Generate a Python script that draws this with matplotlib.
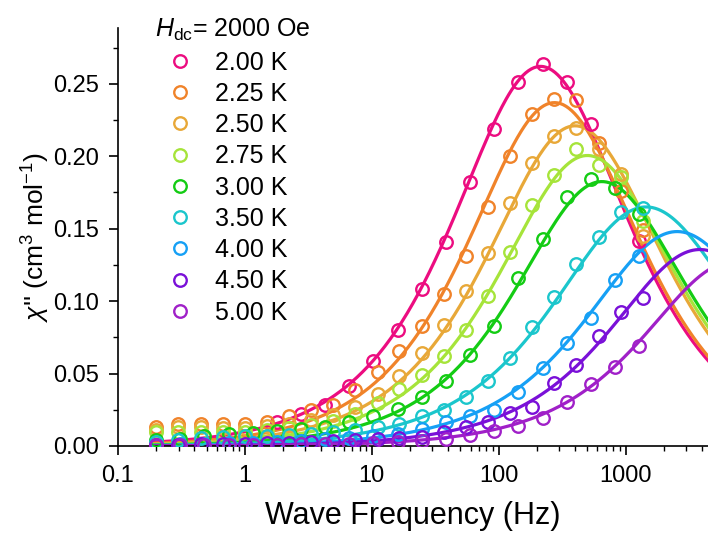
import numpy as np
import matplotlib
matplotlib.use("Agg")
import matplotlib.pyplot as plt
from matplotlib.ticker import MultipleLocator, LogLocator, FixedLocator, FixedFormatter, NullFormatter

plt.rcParams['font.family'] = ['Liberation Sans', 'DejaVu Sans']
plt.rcParams['mathtext.fontset'] = 'custom'
plt.rcParams['mathtext.rm'] = 'Liberation Sans'
plt.rcParams['mathtext.it'] = 'Liberation Sans:italic'

# ---------------- data ----------------
temps = ["2.00 K", "2.25 K", "2.50 K", "2.75 K", "3.00 K", "3.50 K", "4.00 K", "4.50 K", "5.00 K"]
colors = ["#EC0C80", "#F0832A", "#E8A838", "#A6E43A", "#14CC14", "#1BC6CC", "#16A0F5", "#7A10D8", "#A020C8"]

freq_A = [0.2, 0.31, 0.48, 0.745, 1.155, 1.79, 2.78, 4.3, 6.67, 10.3, 16.0, 24.8, 38.5,
          59.6, 92.4, 143, 222, 344, 534, 828, 1283]
freq_B = [0.2, 0.299, 0.447, 0.667, 0.997, 1.49, 2.23, 3.32, 4.96, 7.42, 11.1, 16.5, 24.7,
          36.9, 55.1, 82.3, 123, 184, 275, 410, 613, 916, 1369]
freq_200 = [1.79, 2.78, 4.3, 6.67, 10.3, 16.0, 24.8, 38.5, 59.6, 92.4, 143, 222, 344, 534, 1283]

chi_200 = [0.0164, 0.0221, 0.028, 0.0416, 0.0589, 0.0803, 0.1086, 0.1411, 0.1825, 0.2189,
           0.2512, 0.2638, 0.2512, 0.2224, 0.1418]
chi_225 = [0.0129, 0.0152, 0.0152, 0.015, 0.015, 0.0166, 0.0205, 0.0249, 0.0285, 0.0389,
           0.0509, 0.0655, 0.0829, 0.1048, 0.1312, 0.1648, 0.2005, 0.2293, 0.2392, 0.2385,
           0.209, 0.176, 0.149]
chi_250 = [0.011, 0.0128, 0.0128, 0.0126, 0.0126, 0.0138, 0.0155, 0.018, 0.0215, 0.027,
           0.0359, 0.0486, 0.064, 0.0836, 0.107, 0.133, 0.1674, 0.195, 0.2139, 0.2198,
           0.205, 0.1875, 0.145]
chi_275 = [0.0094, 0.01, 0.01, 0.01, 0.01, 0.0108, 0.0122, 0.0145, 0.0175, 0.022,
           0.03, 0.0392, 0.0492, 0.0618, 0.0803, 0.1038, 0.1338, 0.1665, 0.1872, 0.2051,
           0.194, 0.186, 0.155]
chi_300 = [0.004, 0.005, 0.0068, 0.0083, 0.009, 0.0106, 0.0115, 0.0129, 0.0164, 0.0209,
           0.0256, 0.0336, 0.0451, 0.0628, 0.0831, 0.1158, 0.143, 0.1717, 0.184, 0.178, 0.16]
chi_350 = [0.0028, 0.0038, 0.0058, 0.0064, 0.0068, 0.0072, 0.0078, 0.0085, 0.0095, 0.011,
           0.0128, 0.0152, 0.0209, 0.0251, 0.0336, 0.0451, 0.0606, 0.082, 0.1027, 0.1257,
           0.1441, 0.1618, 0.1642]
chi_400 = [0.001, 0.0012, 0.0015, 0.0019, 0.0024, 0.003, 0.0037, 0.0045, 0.0055, 0.0068,
           0.0083, 0.0115, 0.0165, 0.0205, 0.0251, 0.0375, 0.0539, 0.0709, 0.0884, 0.1146, 0.131]
chi_450 = [0.0008, 0.001, 0.0012, 0.0014, 0.0017, 0.002, 0.0024, 0.0028, 0.0033, 0.0038,
           0.0045, 0.0052, 0.006, 0.0097, 0.0129, 0.0168, 0.0226, 0.0267, 0.0433, 0.0562,
           0.0762, 0.0927, 0.1022]
chi_500 = [0.0004, 0.0005, 0.0006, 0.0007, 0.0008, 0.001, 0.0012, 0.0014, 0.0017, 0.0021,
           0.0027, 0.0037, 0.0048, 0.0076, 0.0106, 0.014, 0.0191, 0.0305, 0.0428, 0.0548, 0.0693]

series_freq = [freq_200, freq_B, freq_B, freq_B, freq_A, freq_B, freq_A, freq_B, freq_A]
series_chi = [chi_200, chi_225, chi_250, chi_275, chi_300, chi_350, chi_400, chi_450, chi_500]

# generalized Debye fit parameters (peak frequency, distribution alpha, peak chi'')
fit_peak_freq = [214, 275, 400, 500, 650, 1450, 2550, 3850, 7000]
fit_alpha = [0.21, 0.20, 0.21, 0.21, 0.20, 0.24, 0.23, 0.22, 0.22]
fit_peak_chi = [0.262, 0.237, 0.221, 0.2005, 0.1825, 0.165, 0.148, 0.1356, 0.127]


def debye_chi2(f, fpeak, alpha, hpeak):
    s = np.sin(alpha * np.pi / 2)
    c = np.cos(alpha * np.pi / 2)
    dchi = hpeak * 2 * (1 + s) / c
    tau = 1.0 / (2 * np.pi * fpeak)
    wt = (2 * np.pi * f * tau) ** (1 - alpha)
    return dchi * wt * c / (1 + 2 * wt * s + wt ** 2)


# ---------------- figure ----------------
fig = plt.figure(figsize=(7.08, 5.34), dpi=100)
ax = fig.add_axes([118 / 708, 1 - 446 / 534, 590 / 708, 418 / 534])

f_fit = np.logspace(np.log10(0.19), np.log10(4600), 400)
handles = []
for i in range(len(temps)):
    ax.plot(f_fit, debye_chi2(f_fit, fit_peak_freq[i], fit_alpha[i], fit_peak_chi[i]),
            color=colors[i], lw=2.3, zorder=2)
    h, = ax.plot(series_freq[i], series_chi[i], 'o', mfc='none', mec=colors[i],
                 mew=1.7, ms=9, zorder=3, label=temps[i])
    handles.append(h)

ax.set_xscale('log')
ax.set_xlim(0.1, 4460)
ax.set_ylim(0, 0.2885)

ax.spines['top'].set_visible(False)
ax.spines['right'].set_visible(False)
for sp in ['left', 'bottom']:
    ax.spines[sp].set_linewidth(1.2)

ax.xaxis.set_major_locator(FixedLocator([0.1, 1, 10, 100, 1000]))
ax.xaxis.set_major_formatter(FixedFormatter(["0.1", "1", "10", "100", "1000"]))
ax.xaxis.set_minor_locator(LogLocator(base=10, subs=np.arange(2, 10)))
ax.xaxis.set_minor_formatter(NullFormatter())
ax.yaxis.set_major_locator(MultipleLocator(0.05))
ax.yaxis.set_minor_locator(MultipleLocator(0.025))
ax.yaxis.set_major_formatter(plt.FormatStrFormatter('%.2f'))

ax.tick_params(which='major', direction='out', length=6.5, width=1.2, labelsize=17, pad=7)
ax.tick_params(which='minor', direction='out', length=3.5, width=1.0)

ax.set_xlabel("Wave Frequency (Hz)", fontsize=22, labelpad=10)
ax.set_ylabel(r"$\mathit{\chi}$'' (cm$^{3}$ mol$^{-1}$)", fontsize=19, labelpad=1)

leg = ax.legend(handles=handles, loc='upper left', bbox_to_anchor=(0.045, 1.05),
                frameon=False, fontsize=18, title=r"$\mathit{H}_{\mathrm{dc}}$= 2000 Oe",
                title_fontsize=18, handletextpad=0.42, labelspacing=0.29,
                handlelength=2.0, borderaxespad=0.0, alignment='left')

fig.savefig("out.png", dpi=100)
